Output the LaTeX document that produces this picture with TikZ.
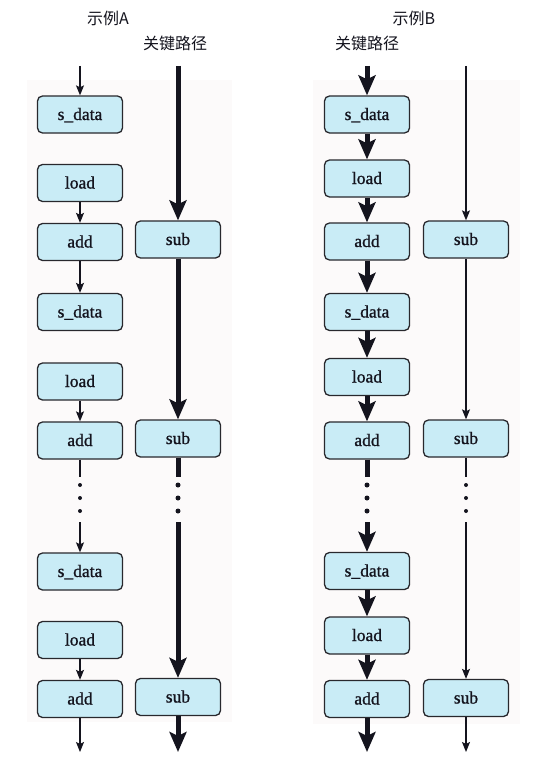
\documentclass[tikz,border=0pt]{standalone}
\usepackage{fontspec}
\setmainfont{Liberation Serif}
\newfontfamily\boxfont{Liberation Serif}[FakeBold=1]
\newfontfamily\cjk{Noto Sans CJK SC}
\usetikzlibrary{arrows.meta}
\definecolor{boxfill}{RGB}{201,236,246}
\definecolor{boxline}{RGB}{40,40,45}
\definecolor{panel}{RGB}{252,250,250}
\definecolor{ink}{RGB}{20,20,30}
\begin{document}
\begin{tikzpicture}[x=1pt,y=-1pt,
  box/.style={draw=boxline, line width=1.3pt, rounded corners=5pt, fill=boxfill,
    minimum width=85pt, minimum height=37pt, inner sep=0pt, text=ink,
    font=\boxfont\fontsize{17.5}{20}\selectfont, text height=12pt, text depth=1pt},
  title/.style={font=\cjk\fontsize{16}{18}\selectfont, text=ink, inner sep=0pt},
  thinarr/.style={line width=1.2pt, draw=ink, -{Stealth[length=10pt,width=8pt,inset=2pt]}},
  thinline/.style={line width=1.2pt, draw=ink},
  thickarr/.style={line width=5pt, draw=ink, -{Stealth[length=20pt,width=17pt,inset=4pt]}},
  thickline/.style={line width=5pt, draw=ink},
  sdot/.style={circle, fill=ink, inner sep=0pt, minimum size=4pt},
  bdot/.style={circle, fill=ink, inner sep=0pt, minimum size=5pt}
]
\useasboundingbox (0,0) rectangle (535,760);
\fill[white] (0,0) rectangle (535,760);
% faint panels
\fill[panel] (27,80) rectangle (232,722);
\fill[panel] (313,80) rectangle (520,724);

% titles
\node[title] (tA) at (108,18) {示例A};
\node[title] (cA) at (175,43) {关键路径};
\node[title] (tB) at (414,18) {示例B};
\node[title] (cB) at (367,43) {关键路径};

% ---------- Example A ----------
\node[box] (a1) at (80,114.5) {s\_data};
\node[box] (a2) at (80,183) {load};
\node[box] (a3) at (80,242) {add};
\node[box] (a4) at (80,312) {s\_data};
\node[box] (a5) at (80,381.5) {load};
\node[box] (a6) at (80,440.5) {add};
\node[box] (a7) at (80,571.5) {s\_data};
\node[box] (a8) at (80,640) {load};
\node[box] (a9) at (80,699) {add};

\node[box] (as1) at (178,239.5) {sub};
\node[box] (as2) at (178,438.5) {sub};
\node[box] (as3) at (178,697) {sub};

\coordinate (aT) at (80,66);
\coordinate (aB) at (80,752);
\coordinate (aU) at (80,477);
\coordinate (aL) at (80,522);
\node[sdot] (ad1) at (80,485) {};
\node[sdot] (ad2) at (80,498) {};
\node[sdot] (ad3) at (80,511) {};

\draw[thinarr] (aT) -- (a1);
\draw[thinarr] (a2) -- (a3);
\draw[thinarr] (a3) -- (a4);
\draw[thinarr] (a5) -- (a6);
\draw[thinline] (a6) -- (aU);
\draw[thinarr] (aL) -- (a7);
\draw[thinarr] (a8) -- (a9);
\draw[thinarr] (a9) -- (aB);

\coordinate (asT) at (178,66);
\coordinate (asB) at (178,752);
\coordinate (asU) at (178,477);
\coordinate (asL) at (178,522);
\node[bdot] (asd1) at (178,485) {};
\node[bdot] (asd2) at (178,498) {};
\node[bdot] (asd3) at (178,511) {};

\draw[thickarr] (asT) -- (as1);
\draw[thickarr] (as1) -- (as2);
\draw[thickline] (as2) -- (asU);
\draw[thickarr] (asL) -- (as3);
\draw[thickarr] (as3) -- (asB);

% ---------- Example B ----------
\node[box] (b1) at (367,114.5) {s\_data};
\node[box] (b2) at (367,178.5) {load};
\node[box] (b3) at (367,241.5) {add};
\node[box] (b4) at (367,312) {s\_data};
\node[box] (b5) at (367,377) {load};
\node[box] (b6) at (367,440.5) {add};
\node[box] (b7) at (367,571) {s\_data};
\node[box] (b8) at (367,635.5) {load};
\node[box] (b9) at (367,699) {add};

\node[box] (bs1) at (466,239.5) {sub};
\node[box] (bs2) at (466,438.5) {sub};
\node[box] (bs3) at (466,698) {sub};

\coordinate (bT) at (367,66);
\coordinate (bB) at (367,752);
\coordinate (bU) at (367,477);
\coordinate (bL) at (367,522);
\node[bdot] (bd1) at (367,485) {};
\node[bdot] (bd2) at (367,498) {};
\node[bdot] (bd3) at (367,511) {};

\draw[thickarr] (bT) -- (b1);
\draw[thickarr] (b1) -- (b2);
\draw[thickarr] (b2) -- (b3);
\draw[thickarr] (b3) -- (b4);
\draw[thickarr] (b4) -- (b5);
\draw[thickarr] (b5) -- (b6);
\draw[thickline] (b6) -- (bU);
\draw[thickarr] (bL) -- (b7);
\draw[thickarr] (b7) -- (b8);
\draw[thickarr] (b8) -- (b9);
\draw[thickarr] (b9) -- (bB);

\coordinate (bsT) at (466,66);
\coordinate (bsB) at (466,752);
\coordinate (bsU) at (466,477);
\coordinate (bsL) at (466,522);
\node[sdot] (bsd1) at (466,485) {};
\node[sdot] (bsd2) at (466,498) {};
\node[sdot] (bsd3) at (466,511) {};

\draw[thinarr] (bsT) -- (bs1);
\draw[thinarr] (bs1) -- (bs2);
\draw[thinline] (bs2) -- (bsU);
\draw[thinarr] (bsL) -- (bs3);
\draw[thinarr] (bs3) -- (bsB);
\end{tikzpicture}
\end{document}
